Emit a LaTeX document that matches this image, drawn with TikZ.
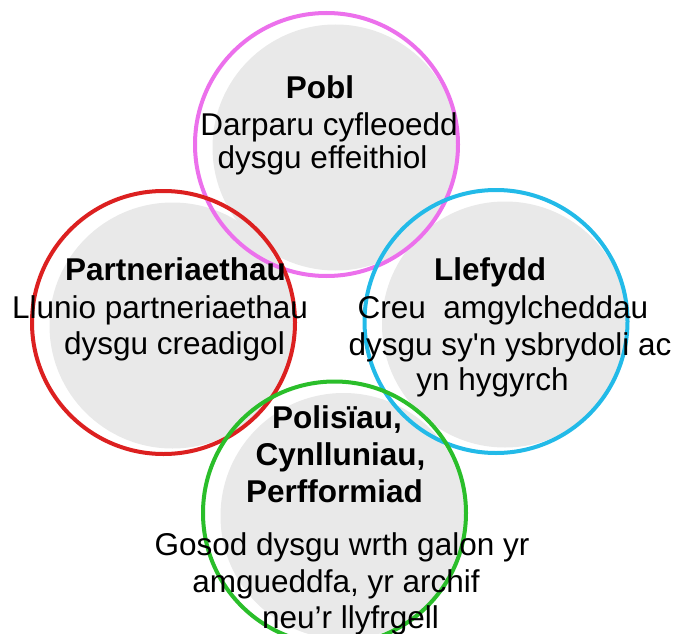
\documentclass[tikz,border=0pt]{standalone}
\usepackage{fontspec}
\newfontfamily\lab{Liberation Sans}
\definecolor{ringpink}{RGB}{236,112,236}
\definecolor{ringred}{RGB}{220,32,32}
\definecolor{ringblue}{RGB}{34,186,232}
\definecolor{ringgreen}{RGB}{42,190,42}
\definecolor{discgray}{RGB}{233,233,233}
\tikzset{
  disc/.style={circle, fill=discgray, minimum size=246pt, inner sep=0pt, draw=none},
  ring/.style={circle, draw=#1, line width=4pt, minimum size=263pt, inner sep=0pt},
  txt/.style={anchor=base, inner sep=0pt, font=\lab\fontsize{31.5}{37}\selectfont},
  ttl/.style={txt, font=\lab\bfseries\fontsize{31.5}{37}\selectfont}
}
\begin{document}
\begin{tikzpicture}[x=1pt,y=-1pt]
\useasboundingbox[fill=white] (0,0) rectangle (677,634);
% grey discs
\node[disc] (dpink)  at (335.5,147.5) {};
\node[disc] (dred)   at (172.5,325.5) {};
\node[disc] (dblue)  at (505,324.5) {};
\node[disc] (dgreen) at (343.5,516) {};
% rings
\node[ring=ringpink]  (pink)  at (326.5,144.5) {};
\node[ring=ringred]   (red)   at (163.5,322.5) {};
\node[ring=ringblue]  (blue)  at (496,321.5) {};
\node[ring=ringgreen] (green) at (334.5,513) {};
% top
\node[ttl] (t1) at (320,98) {Pobl};
\node[txt] (t2) at (329,135) {Darparu cyfleoedd};
\node[txt] (t3) at (322.5,168) {dysgu effeithiol};
% left
\node[ttl] (l1) at (175.5,280) {Partneriaethau};
\node[txt] (l2) at (160,318) {Llunio partneriaethau};
\node[txt] (l3) at (174.5,354) {dysgu creadigol};
% right
\node[ttl] (r1) at (490,280) {Llefydd};
\node[txt] (r2) at (503,318) {Creu\ \ amgylcheddau};
\node[txt] (r3) at (510,355) {dysgu sy'n ysbrydoli ac};
\node[txt] (r4) at (492.5,390) {yn hygyrch};
% bottom
\node[ttl] (b1) at (337,428) {Polisïau,};
\node[ttl] (b2) at (340.5,465) {Cynlluniau,};
\node[ttl] (b3) at (334.5,502) {Perfformiad};
\node[txt] (b4) at (342,555) {Gosod dysgu wrth galon yr};
\node[txt] (b5) at (336,592) {amgueddfa, yr archif};
\node[txt] (b6) at (350.5,628) {neu’r llyfrgell};
\end{tikzpicture}
\end{document}
